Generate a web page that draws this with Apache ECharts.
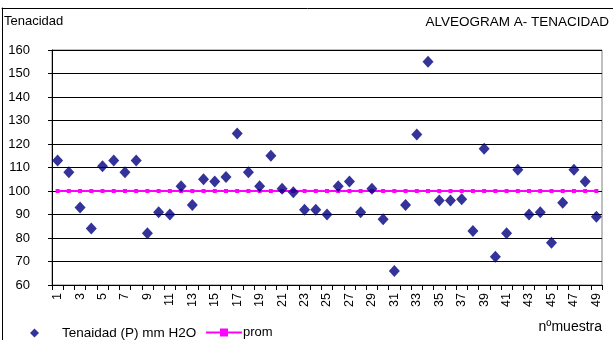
<!DOCTYPE html>
<html>
<head>
<meta charset="utf-8">
<script src="https://cdn.jsdelivr.net/npm/echarts@6/dist/echarts.min.js"></script>
<style>html,body{margin:0;padding:0;background:#fff;}#c{width:613px;height:340px;}</style>
</head>
<body>
<div id="c"></div>
<script>
var categories = [];
for (var i = 1; i <= 49; i++) categories.push(String(i));
var tenacidad = [113,108,93,84,110.5,113,108,113,82,91,90,102,94,105,104,106,124.5,108,102,115,101,99.5,92,92,90,102,104,91,101,88,66,94,124,155,96,96,96.5,83,118,72,82,109,90,91,78,95,109,104,89];
var promValue = 100;
var prom = categories.map(function(){ return promValue; });
var yTicks = {min: 60, max: 160, interval: 10};

var FONT = '"Liberation Sans", Arial, sans-serif';
function frameAxis(extra) {
  return Object.assign({show: true, min: 0, max: 1, axisLine: {show: true, onZero: false, lineStyle: {color: '#000', width: 1}},
                 axisTick: {show: false}, axisLabel: {show: false}, splitLine: {show: false}}, extra);
}
var chart = echarts.init(document.getElementById('c'));
chart.setOption({
  animation: false,
  backgroundColor: '#fff',
  textStyle: {fontFamily: FONT},
  title: [
    {text: 'Tenacidad', left: 4, top: 15, padding: 0, textStyle: {fontFamily: FONT, fontSize: 13, fontWeight: 'normal', color: '#000'}},
    {text: 'ALVEOGRAM A- TENACIDAD', right: 4, top: 15, padding: 0, textStyle: {fontFamily: FONT, fontSize: 13.5, fontWeight: 'normal', color: '#000'}}
  ],
  grid: [
    {left: 52, right: 11, top: 50, bottom: 55, show: true, borderColor: '#808080', borderWidth: 1, backgroundColor: 'transparent'},
    {left: 2, top: 8, right: 0, bottom: 0, show: false}
  ],
  legend: [
    {data: [{name: 'Tenaidad (P) mm H2O', icon: 'diamond'}], left: 25, top: 321, itemWidth: 9, itemHeight: 9,
     textStyle: {fontFamily: FONT, fontSize: 13.5, color: '#000', padding: [0, 0, 0, 18]}},
    {data: ['prom'], left: 200, top: 321, itemWidth: 36, itemHeight: 10,
     textStyle: {fontFamily: FONT, fontSize: 13, color: '#000', padding: [0, 0, 0, -4]}}
  ],
  xAxis: [{
    type: 'category', data: categories, boundaryGap: true, gridIndex: 0,
    axisLine: {lineStyle: {color: '#000', width: 1}},
    axisTick: {show: true, interval: 0, length: 5, lineStyle: {color: '#000'}},
    axisLabel: {interval: 1, rotate: 90, margin: 8, fontSize: 12.5, color: '#000', fontFamily: FONT},
    splitLine: {show: false}
  }, frameAxis({type: 'value', gridIndex: 1, position: 'top'})],
  yAxis: [{
    type: 'value', min: yTicks.min, max: yTicks.max, interval: yTicks.interval, gridIndex: 0,
    axisLine: {show: true, lineStyle: {color: '#000', width: 1}},
    axisTick: {show: true, length: 4, lineStyle: {color: '#000'}},
    axisLabel: {margin: 22, fontSize: 13, color: '#000', fontFamily: FONT},
    splitLine: {show: true, lineStyle: {color: '#000', width: 1}}
  }, frameAxis({type: 'value', gridIndex: 1, position: 'left'})],
  series: [
    {name: 'prom', type: 'line', data: prom, symbol: 'rect', symbolSize: 4, showSymbol: true,
     lineStyle: {color: '#FF00FF', width: 2}, itemStyle: {color: '#FF00FF'}, z: 2},
    {name: 'Tenaidad (P) mm H2O', type: 'scatter', data: tenacidad, symbol: 'diamond', symbolSize: [11, 12],
     itemStyle: {color: '#000080'}, z: 3}
  ],
  graphic: [
    {type: 'text', z: 100, right: 11, top: 320, style: {text: 'nºmuestra', font: '14px ' + FONT, fill: '#000'}}
  ]
});
</script>
</body>
</html>
